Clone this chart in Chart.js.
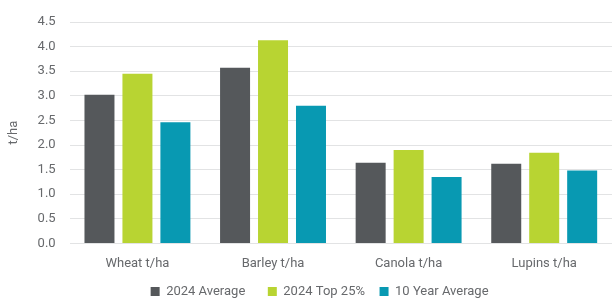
<!DOCTYPE html>
<html>
<head>
<meta charset="utf-8">
<script src="https://cdn.jsdelivr.net/npm/chart.js@4"></script>
<style>
  html, body { margin: 0; padding: 0; background: #fff; }
  #wrap { width: 612px; height: 298px; position: relative; }
</style>
</head>
<body>
<div id="wrap"><canvas id="chart"></canvas></div>
<script>
const crops = ['Wheat t/ha', 'Barley t/ha', 'Canola t/ha', 'Lupins t/ha'];
const avg2024 = [3.02, 3.57, 1.64, 1.62];
const top25 = [3.45, 4.13, 1.90, 1.84];
const tenYear = [2.46, 2.80, 1.35, 1.48];

const fontFam = 'Roboto, "Noto Sans", sans-serif';
const textCol = '#67696c';

// trailing spacing after each legend entry
const legendGaps = ['\u2003\u2002\u2009', '\u2003\u200a', '\u2003\u2003\u2003\u2009'];

new Chart(document.getElementById('chart'), {
  type: 'bar',
  data: {
    labels: crops,
    datasets: [
      { label: '2024 Average', data: avg2024, backgroundColor: '#55585b' },
      { label: '2024 Top 25%', data: top25, backgroundColor: '#b8d432' },
      { label: '10 Year Average', data: tenYear, backgroundColor: '#0899b2' }
    ]
  },
  options: {
    responsive: true,
    maintainAspectRatio: false,
    animation: false,
    datasets: {
      bar: { barPercentage: 0.79, categoryPercentage: 0.84 }
    },
    layout: { padding: { top: 22, right: 0, left: 6, bottom: -10 } },
    plugins: {
      tooltip: { enabled: false },
      legend: {
        position: 'bottom',
        fullSize: false,
        labels: {
          boxWidth: 9,
          boxHeight: 9,
          padding: 0,
          color: textCol,
          font: { family: fontFam, size: 13 },
          generateLabels: chart => {
            const items = Chart.defaults.plugins.legend.labels.generateLabels(chart);
            items.forEach((it, i) => { it.text += legendGaps[i]; });
            return items;
          }
        }
      }
    },
    scales: {
      x: {
        grid: { display: false, drawTicks: false },
        border: { display: false },
        ticks: { color: textCol, padding: 13, font: { family: fontFam, size: 13 } }
      },
      y: {
        min: 0,
        max: 4.5,
        border: { display: false },
        grid: { color: '#e2e3e4', drawTicks: false },
        ticks: {
          stepSize: 0.5,
          padding: 14,
          color: textCol,
          font: { family: fontFam, size: 13 },
          callback: v => v.toFixed(1)
        },
        title: {
          display: true,
          text: 't/ha',
          color: textCol,
          font: { family: fontFam, size: 13 },
          padding: { top: 0, bottom: 2 }
        }
      }
    }
  }
});
</script>
</body>
</html>
